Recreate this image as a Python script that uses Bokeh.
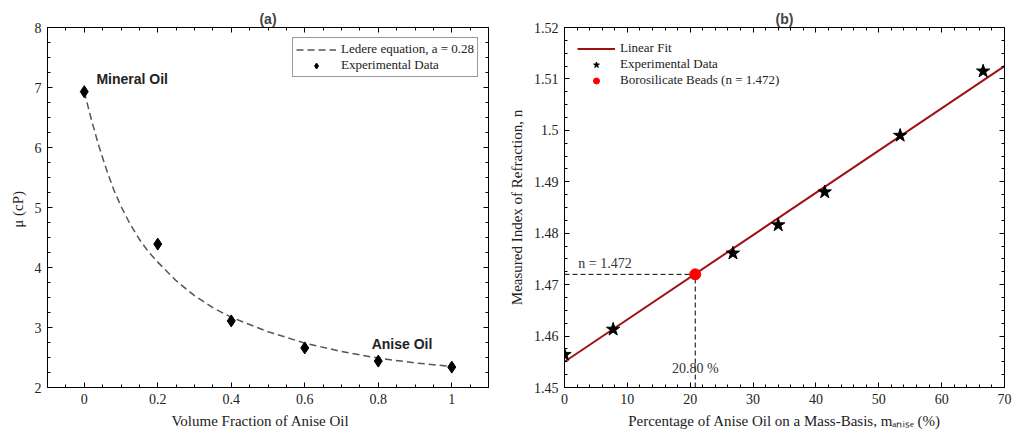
from bokeh.plotting import figure
from bokeh.layouts import row
from bokeh.models import (LinearAxis, SingleIntervalTicker, CustomJSTickFormatter,
                          Label, Legend, Range1d)
from bokeh.embed import file_html
from bokeh.resources import INLINE

# ---------------- data: panel (a) ----------------
vol_frac = [0.0, 0.2, 0.4, 0.6, 0.8, 1.0]
visc_cp = [6.93, 4.39, 3.11, 2.66, 2.44, 2.34]
# Ledere equation curve
ledere_x = [0.0, 0.02, 0.04, 0.06, 0.08, 0.10, 0.125, 0.15, 0.175, 0.20, 0.25,
            0.30, 0.35, 0.40, 0.50, 0.60, 0.70, 0.80, 0.90, 1.00]
ledere_mu = [6.93, 6.45, 6.02, 5.64, 5.30, 5.02, 4.72, 4.47, 4.26, 4.09, 3.78,
             3.53, 3.33, 3.17, 2.93, 2.74, 2.60, 2.49, 2.41, 2.35]

# ---------------- data: panel (b) ----------------
mass_pct = [0.0, 7.74, 26.8, 34.0, 41.4, 53.4, 66.6]
ref_index = [1.4564, 1.4613, 1.4761, 1.4816, 1.4880, 1.4990, 1.5115]
fit_x = [0.0, 70.0]
fit_n = [1.4550, 1.5125]
bead_x = [20.8]
bead_n = [1.472]

SERIF = "Liberation Serif"
SANS = "Liberation Sans"
fmt = CustomJSTickFormatter(code="return parseFloat(tick.toFixed(4)).toString();")
blank = CustomJSTickFormatter(code="return '';")


def style(p, xint, xminor, yint, yminor):
    p.outline_line_color = "black"
    p.outline_line_width = 1
    p.xgrid.visible = False
    p.ygrid.visible = False
    p.background_fill_color = "white"
    p.border_fill_color = "white"
    xt = SingleIntervalTicker(interval=xint, num_minor_ticks=xminor)
    yt = SingleIntervalTicker(interval=yint, num_minor_ticks=yminor)
    for ax in p.below:
        ax.ticker = xt
        ax.formatter = fmt
    for ax in p.left:
        ax.ticker = yt
        ax.formatter = fmt
    top = LinearAxis(ticker=xt, formatter=blank, major_label_standoff=0,
                     major_label_text_font_size="1px")
    right = LinearAxis(ticker=yt, formatter=blank, major_label_standoff=0,
                       major_label_text_font_size="1px")
    p.add_layout(top, "above")
    p.add_layout(right, "right")
    for ax in p.xaxis + p.yaxis:
        ax.axis_line_color = "black"
        ax.major_tick_line_color = "black"
        ax.minor_tick_line_color = "black"
        ax.major_tick_in = 5
        ax.major_tick_out = 0
        ax.minor_tick_in = 3
        ax.minor_tick_out = 0
    for ax in p.below + p.left:
        ax.major_label_text_font = SERIF
        ax.major_label_text_font_size = "14px"
        ax.major_label_text_color = "#222222"
        ax.axis_label_text_font = SERIF
        ax.axis_label_text_font_size = "15px"
        ax.axis_label_text_font_style = "normal"
        ax.axis_label_text_color = "#222222"
        ax.major_label_standoff = 6
        ax.axis_label_standoff = 6
    p.title.text_font = SANS
    p.title.text_font_size = "14px"
    p.title.text_font_style = "bold"
    p.title.align = "center"
    p.title.standoff = 2


# ---------------- panel (a) ----------------
pa = figure(frame_width=441, frame_height=360, output_backend="svg", toolbar_location=None,
            x_range=Range1d(-0.1, 1.1), y_range=Range1d(2, 8), title="(a)",
            min_border_left=47, min_border_right=17, min_border_top=27, min_border_bottom=43)
pa.xaxis.axis_label = "Volume  Fraction  of  Anise  Oil"
pa.yaxis.axis_label = "μ  (cP)"
style(pa, 0.2, 4, 1, 4)

la = pa.line(ledere_x, ledere_mu, line_color="#555555", line_width=1.5, line_dash="7 4")
sa = pa.scatter(vol_frac, visc_cp, marker="diamond", size=12, fill_color="black", line_color="black")

leg_a = Legend(items=[("Ledere equation, a = 0.28", [la]), ("Experimental Data", [sa])],
               location="top_right", glyph_width=40, glyph_height=15, label_height=15,
               label_standoff=5, spacing=0, padding=3, margin=10,
               label_text_font=SERIF, label_text_font_size="13px", label_text_color="#222222",
               border_line_color="#333333", border_line_width=1, background_fill_alpha=1)
pa.add_layout(leg_a)

pa.add_layout(Label(x=0.033, y=7.15, text="Mineral Oil", text_font=SANS, text_font_size="14px",
                    text_font_style="bold", text_baseline="middle", text_color="#222222"))
pa.add_layout(Label(x=0.782, y=2.72, text="Anise Oil", text_font=SANS, text_font_size="14px",
                    text_font_style="bold", text_baseline="middle", text_color="#222222"))

# ---------------- panel (b) ----------------
pb = figure(frame_width=440, frame_height=360, output_backend="svg", toolbar_location=None,
            x_range=Range1d(0, 70), y_range=Range1d(1.45, 1.52), title="(b)",
            min_border_left=58, min_border_right=18, min_border_top=27, min_border_bottom=43)
pb.xaxis.axis_label = "Percentage of Anise Oil on a Mass-Basis, mₐₙᵢₛₑ (%)"
pb.yaxis.axis_label = "Measured Index of Refraction, n"
style(pb, 10, 5, 0.01, 4)

pb.segment(x0=[0], y0=bead_n, x1=bead_x, y1=bead_n, line_color="black", line_width=1, line_dash="5 3")
pb.segment(x0=bead_x, y0=[1.45], x1=bead_x, y1=bead_n, line_color="black", line_width=1, line_dash="5 3")
lb = pb.line(fit_x, fit_n, line_color="#a01010", line_width=2)
sb = pb.scatter(mass_pct, ref_index, marker="star", size=14, fill_color="black", line_color="black")
cb = pb.scatter(bead_x, bead_n, marker="circle", size=11, fill_color="#ff0000", line_color="#ff0000")

leg_b = Legend(items=[("Linear Fit", [lb]), ("Experimental Data", [sb]),
                      ("Borosilicate Beads (n = 1.472)", [cb])],
               location="top_left", glyph_width=38, glyph_height=15, label_height=15,
               label_standoff=5, spacing=0, padding=3, margin=10,
               label_text_font=SERIF, label_text_font_size="13px", label_text_color="#222222",
               border_line_alpha=0, background_fill_alpha=0)
pb.add_layout(leg_b)

pb.add_layout(Label(x=2.2, y=1.4741, text="n = 1.472", text_font=SERIF, text_font_size="14px",
                    text_baseline="middle", text_color="#333333"))
pb.add_layout(Label(x=bead_x[0], y=1.4537, text="20.80 %", text_font=SERIF, text_font_size="14px",
                    text_baseline="middle", text_align="center", text_color="#333333"))

layout = row(pa, pb, spacing=0)
open("out.html", "w").write(file_html(layout, INLINE))
